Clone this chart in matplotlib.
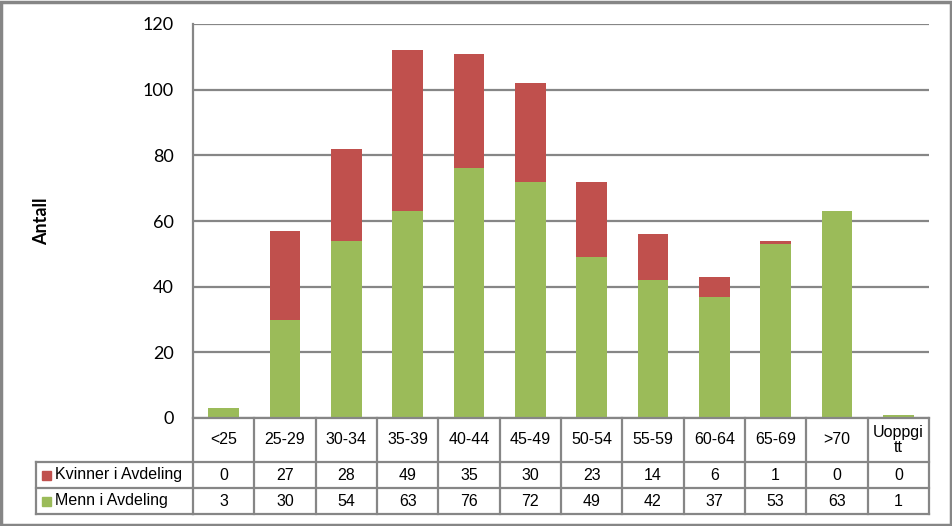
import matplotlib.pyplot as plt
import matplotlib.transforms as mtransforms
from matplotlib.lines import Line2D
from matplotlib.patches import Rectangle
import numpy as np

# data
categories = ['<25', '25-29', '30-34', '35-39', '40-44', '45-49', '50-54',
              '55-59', '60-64', '65-69', '>70', 'Uoppgi\ntt']
kvinner = [0, 27, 28, 49, 35, 30, 23, 14, 6, 1, 0, 0]
menn = [3, 30, 54, 63, 76, 72, 49, 42, 37, 53, 63, 1]
series_names = ['Kvinner i Avdeling', 'Menn i Avdeling']
yticks = [0, 20, 40, 60, 80, 100, 120]

RED = '#C0504D'
GREEN = '#9BBB59'
GRAY = '#868686'
W, H = 953, 526


def fx(px):
    return px / W


def fy(py):
    return 1 - py / H


fig = plt.figure(figsize=(W / 100, H / 100), dpi=100)
ax = fig.add_axes([fx(193), fy(418), fx(929) - fx(193), fy(24) - fy(418)])

x = np.arange(len(categories))
ax.bar(x, menn, width=0.5, color=GREEN, zorder=3)
ax.bar(x, kvinner, width=0.5, bottom=menn, color=RED, zorder=3)

ax.set_xlim(-0.5, len(categories) - 0.5)
ax.set_ylim(0, 120)
ax.set_yticks(yticks)
ax.set_xticks([])
ax.tick_params(axis='y', length=0, pad=14, labelsize=13)
for lab in ax.get_yticklabels():
    lab.set_fontfamily('Lato')
ax.grid(axis='y', color=GRAY, lw=1.6, zorder=0)
for s in ['top', 'right']:
    ax.spines[s].set_visible(False)
for s in ['left', 'bottom']:
    ax.spines[s].set_color(GRAY)
    ax.spines[s].set_linewidth(1.6)
    ax.spines[s].set_zorder(4)

fig.text(fx(42), fy(221), 'Antall', rotation=90, ha='center', va='center',
         fontsize=13, fontweight='bold', family='Lato')

# data table under the axis
trans = mtransforms.blended_transform_factory(ax.transData, fig.transFigure)
tkw = dict(color=GRAY, lw=1.6, clip_on=False)
y_head, y_r1, y_r2, y_end = 418, 462, 488, 514
for i in range(len(categories) + 1):
    fig.add_artist(Line2D([i - 0.5, i - 0.5], [fy(y_head), fy(y_end)], transform=trans, **tkw))
for yy in [y_r1, y_r2, y_end]:
    fig.add_artist(Line2D([-0.5, len(categories) - 0.5], [fy(yy), fy(yy)], transform=trans, **tkw))
    fig.add_artist(Line2D([fx(36), fx(193)], [fy(yy), fy(yy)], transform=fig.transFigure, **tkw))
fig.add_artist(Line2D([fx(36), fx(36)], [fy(y_r1), fy(y_end)], transform=fig.transFigure, **tkw))

font_tab = dict(family='Liberation Sans', fontsize=11.5)
for i, c in enumerate(categories):
    fig.text(i, fy((y_head + y_r1) / 2), c, transform=trans, ha='center', va='center',
             linespacing=0.95, **font_tab)
    fig.text(i, fy((y_r1 + y_r2) / 2), str(kvinner[i]), transform=trans,
             ha='center', va='center', **font_tab)
    fig.text(i, fy((y_r2 + y_end) / 2), str(menn[i]), transform=trans,
             ha='center', va='center', **font_tab)

for name, col, y0, y1 in [(series_names[0], RED, y_r1, y_r2), (series_names[1], GREEN, y_r2, y_end)]:
    yc = (y0 + y1) / 2
    fig.add_artist(Rectangle((fx(42), fy(yc + 4.5)), fx(9), 9 / H, color=col,
                             transform=fig.transFigure))
    fig.text(fx(55), fy(yc), name, ha='left', va='center', **font_tab)

# outer chart border
fig.add_artist(Rectangle((fx(1.5), fy(524.5)), fx(950), 523 / H, fill=False,
                         edgecolor=GRAY, lw=2.5, transform=fig.transFigure))

fig.savefig('out.png', dpi=100)
